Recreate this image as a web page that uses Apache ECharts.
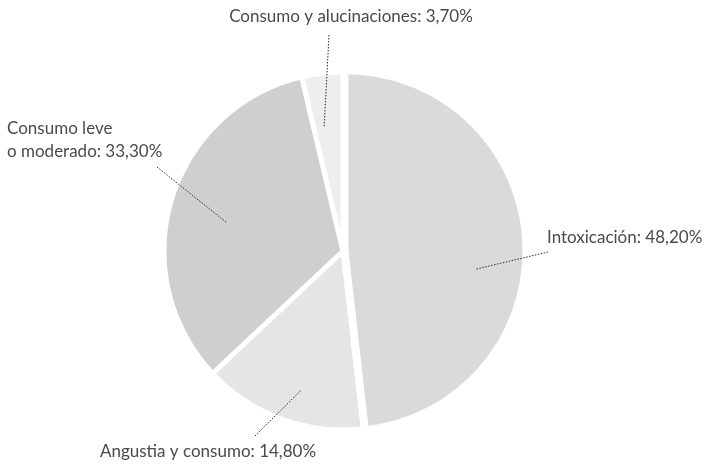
<!DOCTYPE html>
<html>
<head>
<meta charset="utf-8">
<script src="https://cdn.jsdelivr.net/npm/echarts@6/dist/echarts.min.js"></script>
<style>
  html, body { margin: 0; padding: 0; background: #fff; }
  #chart { width: 704px; height: 467px; }
</style>
</head>
<body>
<div id="chart"></div>
<script>
// Shares of each profile (percent), clockwise from 12 o'clock
const categories = [
  'Intoxicación',
  'Angustia y consumo',
  'Consumo leve\no moderado',
  'Consumo y alucinaciones'
];
const values = [48.2, 14.8, 33.3, 3.7];
const valueLabels = ['48,20%', '14,80%', '33,30%', '3,70%'];

// Slice fills
const sliceColors = ['#dadadb', '#e5e5e6', '#cfcfd0', '#eeeeef'];

// Label placement and leader-line geometry (pixels / fractions of radius)
const labelPlacement = [
  { x: 547, y: 238, align: 'left',   end: [548, 252], rFrac: 0.75, dAngle: 11 },
  { x: 208, y: 452, align: 'center', end: [255, 436], rFrac: 0.81, dAngle: -3.5 },
  { x: 7,   y: 140, align: 'left',   end: [157, 167], rFrac: 0.67, dAngle: -3 },
  { x: 351, y: 17,  align: 'center', end: [329, 35],  rFrac: 0.70, dAngle: -2 }
];

const PIE_CENTER = [343, 251];
const PIE_RADIUS = 179;

const chart = echarts.init(document.getElementById('chart'), null, { renderer: 'canvas' });

// Point inside a slice: along its mid-angle (plus a small turn), at a fraction of the radius
function innerPoint(idx) {
  let cx = PIE_CENTER[0], cy = PIE_CENTER[1], r = PIE_RADIUS, mid;
  let layout = null;
  try {
    layout = chart.getModel().getSeriesByIndex(1).getData().getItemLayout(idx);
  } catch (e) { layout = null; }
  if (layout && layout.startAngle != null) {
    cx = layout.cx; cy = layout.cy; r = layout.r;
    mid = (layout.startAngle + layout.endAngle) / 2;
  } else {
    const total = values.reduce((a, b) => a + b, 0);
    let acc = 0;
    for (let i = 0; i < idx; i++) acc += values[i];
    mid = -Math.PI / 2 + ((acc + values[idx] / 2) / total) * Math.PI * 2;
  }
  const p = labelPlacement[idx];
  const a = mid + p.dAngle * Math.PI / 180;
  return [cx + r * p.rFrac * Math.cos(a), cy + r * p.rFrac * Math.sin(a)];
}

// Filled slices (the largest one nudged outward a little)
const sliceData = categories.map((name, i) => ({
  name: name,
  value: values[i],
  selected: i === 0,
  itemStyle: { color: sliceColors[i] }
}));

// Same slices, transparent, drawn on top to carry the labels and leader lines
const labelData = categories.map((name, i) => ({
  name: name,
  value: values[i],
  label: { formatter: name + ': ' + valueLabels[i] }
}));

chart.setOption({
  animation: false,
  backgroundColor: '#ffffff',
  series: [{
    type: 'pie',
    z: 2,
    center: PIE_CENTER,
    radius: PIE_RADIUS,
    startAngle: 90,
    clockwise: true,
    selectedMode: 'single',
    selectedOffset: 3,
    silent: true,
    itemStyle: { borderColor: '#ffffff', borderWidth: 5 },
    emphasis: { disabled: true },
    label: { show: false },
    labelLine: { show: false },
    data: sliceData
  }, {
    type: 'pie',
    z: 5,
    center: PIE_CENTER,
    radius: PIE_RADIUS,
    startAngle: 90,
    clockwise: true,
    silent: true,
    avoidLabelOverlap: false,
    itemStyle: { color: 'rgba(0,0,0,0)', borderWidth: 0 },
    emphasis: { disabled: true },
    label: {
      show: true,
      position: 'outside',
      fontFamily: 'Lato',
      fontSize: 17,
      lineHeight: 23,
      color: '#4a4a4a'
    },
    labelLine: {
      show: true,
      lineStyle: { color: '#2a2a2a', width: 1, type: [1.5, 1.5] }
    },
    labelLayout: function (params) {
      const p = labelPlacement[params.dataIndex];
      return {
        x: p.x,
        y: p.y,
        align: p.align,
        verticalAlign: 'middle',
        labelLinePoints: [p.end, p.end, innerPoint(params.dataIndex)]
      };
    },
    data: labelData
  }]
});
</script>
</body>
</html>
